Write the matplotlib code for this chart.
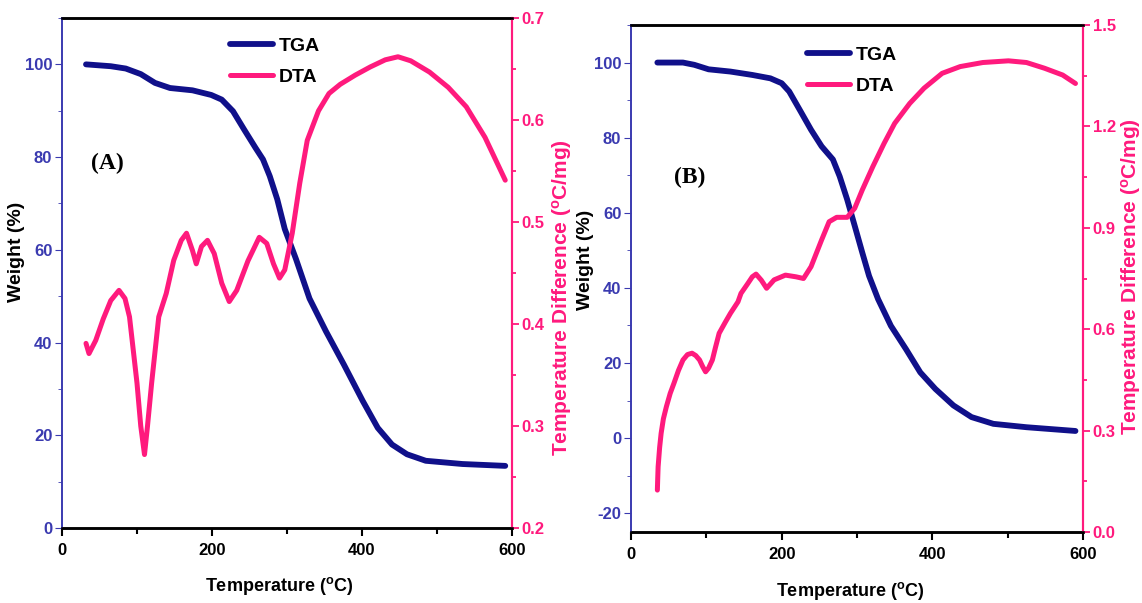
import matplotlib.pyplot as plt
from matplotlib.ticker import MultipleLocator

plt.rcParams['font.family'] = ['Liberation Sans', 'DejaVu Sans']
plt.rcParams['font.weight'] = 'bold'
plt.rcParams['axes.unicode_minus'] = False

navy = '#10108a'
axblue = '#3a3ab0'
pink = '#ff1a7d'

# panel A data
tga_a_t = [32, 65, 85, 105, 124, 144, 174, 199, 213, 228, 243, 258, 268, 277, 287, 297, 312, 330,
           352, 376, 401, 421, 440, 460, 485, 534, 591]
tga_a_w = [100, 99.6, 99.1, 97.9, 96, 94.9, 94.4, 93.4, 92.4, 89.9, 85.9, 82, 79.5, 75.9, 70.9, 64.5, 58, 49.5,
           42.4, 35.2, 27.4, 21.6, 18, 15.9, 14.5, 13.8, 13.4]
dta_a_t = [32, 36, 45, 55, 65, 76, 84, 90, 100, 105, 110, 114, 119.5, 129, 139, 149, 159, 166, 174, 179, 186,
           194, 203, 213, 223, 233, 248, 263, 273, 282, 290, 297, 307, 317, 327, 342, 356, 371, 391, 411, 431,
           448, 465, 490, 515, 539, 564, 591]
dta_a_d = [0.381, 0.371, 0.384, 0.405, 0.423, 0.433, 0.425, 0.407, 0.342, 0.3, 0.272, 0.3, 0.342, 0.407, 0.43,
           0.4625, 0.482, 0.489, 0.472, 0.459, 0.476, 0.482, 0.469, 0.44, 0.422, 0.433, 0.462, 0.485, 0.479,
           0.459, 0.445, 0.453, 0.489, 0.538, 0.58, 0.609, 0.626, 0.635, 0.644, 0.652, 0.659, 0.662, 0.658,
           0.647, 0.632, 0.613, 0.583, 0.541]

# panel B data
tga_b_t = [35, 69, 84, 103, 132, 161, 185, 200, 210, 224, 239, 253, 268, 277, 287, 297, 307, 316, 328,
           345, 365, 384, 404, 428, 452, 481, 525, 590]
tga_b_w = [100, 100, 99.4, 98.2, 97.6, 96.7, 95.8, 94.5, 92.3, 87.4, 82.1, 77.7, 74.2, 69.7, 63.5, 56.5, 49.4,
           43.2, 37, 29.9, 23.7, 17.5, 13.1, 8.7, 5.6, 3.8, 2.9, 1.9]
dta_b_t = [35, 35.5, 36, 38, 40, 43, 47, 52, 57, 63, 69, 75, 81, 86, 91, 95, 99, 103, 108, 112, 117, 125, 132,
           142, 146, 155, 161, 166, 173, 180, 190, 205, 219, 229, 239, 253, 263, 273, 287, 297, 307, 321, 336,
           350, 370, 389, 413, 437, 467, 501, 525, 549, 573, 590]
dta_b_d = [0.124, 0.16, 0.193, 0.25, 0.292, 0.335, 0.371, 0.41, 0.44, 0.478, 0.509, 0.525, 0.529, 0.522, 0.509,
           0.49, 0.474, 0.485, 0.509, 0.545, 0.588, 0.62, 0.647, 0.681, 0.706, 0.735, 0.755, 0.763, 0.745, 0.721,
           0.746, 0.76, 0.755, 0.75, 0.785, 0.864, 0.918, 0.931, 0.931, 0.958, 1.012, 1.081, 1.15, 1.209, 1.268,
           1.313, 1.357, 1.377, 1.389, 1.394, 1.389, 1.372, 1.352, 1.327]

fig = plt.figure(figsize=(11.42, 6.03), dpi=100)
W, H = 1142.0, 603.0


def ftext(x, y, s, **kw):
    fig.text(x / W, 1 - y / H, s, ha='center', va='center', fontweight='bold', **kw)


def panel(rect, t1, w, t2, d, wlim, dlim, dstep, tag, tagpos, legpos):
    ax = fig.add_axes(rect)
    ax2 = ax.twinx()
    l1, = ax.plot(t1, w, color=navy, lw=4.2, solid_capstyle='round', solid_joinstyle='round')
    l2, = ax2.plot(t2, d, color=pink, lw=3.6, solid_capstyle='round', solid_joinstyle='round')
    ax.set_xlim(0, 600)
    ax.set_ylim(*wlim)
    ax2.set_ylim(*dlim)
    ax.xaxis.set_major_locator(MultipleLocator(200))
    ax.xaxis.set_minor_locator(MultipleLocator(100))
    ax.yaxis.set_major_locator(MultipleLocator(20))
    ax.yaxis.set_minor_locator(MultipleLocator(10))
    ax2.yaxis.set_major_locator(MultipleLocator(dstep))
    ax2.yaxis.set_minor_locator(MultipleLocator(dstep / 2))
    ax2.yaxis.set_major_formatter('{x:.1f}')
    for a in (ax, ax2):
        a.spines['top'].set_color('black')
        a.spines['top'].set_linewidth(1.8)
        a.spines['bottom'].set_linewidth(1.8)
        a.spines['left'].set_color(axblue)
        a.spines['left'].set_linewidth(1.2)
        a.spines['right'].set_color(pink)
        a.spines['right'].set_linewidth(1.5)
    ax.tick_params(axis='x', which='both', direction='out', width=1.5, labelsize=12, pad=5)
    ax.tick_params(axis='x', which='major', length=6)
    ax.tick_params(axis='x', which='minor', length=4)
    ax.tick_params(axis='y', which='both', colors=axblue, labelcolor=axblue, labelsize=12, pad=2)
    ax.tick_params(axis='y', which='major', length=5)
    ax.tick_params(axis='y', which='minor', length=3)
    ax2.tick_params(axis='y', which='both', colors=pink, labelcolor=pink, labelsize=12, width=1.3, pad=2)
    ax2.tick_params(axis='y', which='major', length=5)
    ax2.tick_params(axis='y', which='minor', length=3)
    ax.text(tagpos[0], tagpos[1], tag, transform=ax.transAxes, family='Liberation Serif',
            fontsize=17, fontweight='bold', ha='center', va='center')
    ax2.legend([l1, l2], ['TGA', 'DTA'], loc='center', bbox_to_anchor=legpos, frameon=False,
               fontsize=14, handlelength=2.2, handletextpad=0.3, labelspacing=0.7)
    return ax, ax2


panel([62 / W, 1 - 528 / H, 450 / W, 510 / H], tga_a_t, tga_a_w, dta_a_t, dta_a_d,
      (0, 110), (0.2, 0.7), 0.1, '(A)', (0.1, 0.715), (0.473, 0.915))
panel([631 / W, 1 - 532 / H, 452 / W, 507 / H], tga_b_t, tga_b_w, dta_b_t, dta_b_d,
      (-25, 110), (0.0, 1.5), 0.3, '(B)', (0.13, 0.70), (0.489, 0.91))

xlab = 'Temperature ($\\mathregular{^{o}}$C)'
dlab = 'Temperature Difference ($\\mathregular{^{o}}$C/mg)'
ftext(279, 586, xlab, fontsize=13)
ftext(850, 591, xlab, fontsize=13)
ftext(17, 252, 'Weight (%)', fontsize=14, rotation=90)
ftext(586, 260, 'Weight (%)', fontsize=14, rotation=90)
ftext(562, 298, dlab, fontsize=15, rotation=90, color=pink)
ftext(1131, 277, dlab, fontsize=15, rotation=90, color=pink)

fig.savefig('out.png', dpi=100)
